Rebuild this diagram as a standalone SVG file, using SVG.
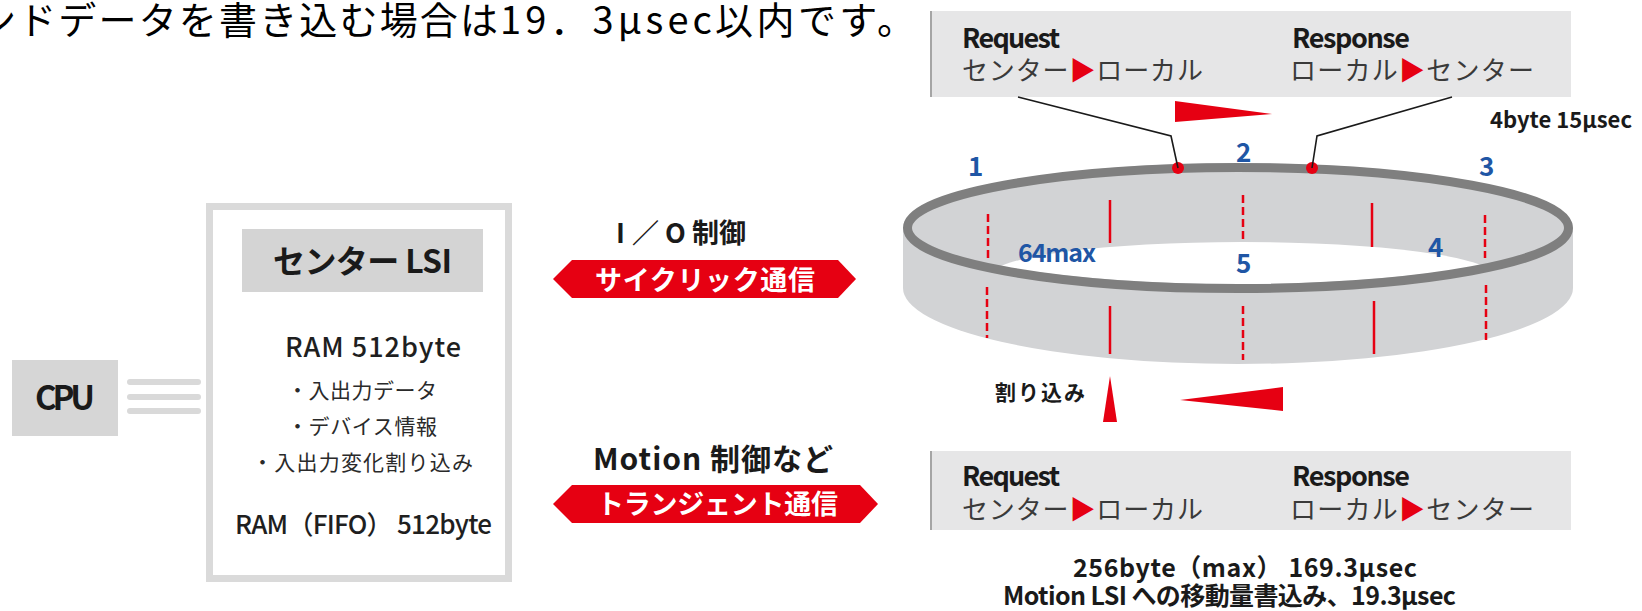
<svg xmlns="http://www.w3.org/2000/svg" width="1642" height="611" viewBox="0 0 1642 611">
<defs>
<style>
text{font-family:"Noto Sans CJK JP","Noto Sans",sans-serif;}
.b{font-weight:bold;fill:#1a1a1a;}
.m{font-weight:500;fill:#1f1f1f;}
.r{font-weight:normal;fill:#2a2a2a;}
.jp{font-weight:normal;fill:#3a3a3a;}
.w{font-weight:bold;fill:#ffffff;}
.blue{font-weight:bold;fill:#1f56a5;}
.red{fill:#e60012;}
.gbox{fill:#e6e6e7;}
.gedge{stroke:#a5a5a5;stroke-width:2;}
.leader{fill:none;stroke:#1a1a1a;stroke-width:1.6;}
.mark{stroke:#e60012;stroke-width:2.5;fill:none;}
.dash{stroke-dasharray:8 4;}
.bus{stroke:#d9d9d9;stroke-width:6;stroke-linecap:round;}
</style>
<clipPath id="inner"><ellipse cx="1238" cy="228" rx="326" ry="56"/></clipPath>
</defs>
<rect width="1642" height="611" fill="#ffffff"/>

<g id="top-note">
<text font-size="38" fill="#000"><tspan x="-22" y="34" textLength="520">ンドデータを書き込む場合は</tspan><tspan x="500" y="34" textLength="212">19．3μsec</tspan><tspan x="715" y="34" textLength="200">以内です。</tspan></text>
</g>

<g id="cpu">
<rect x="12" y="360" width="106" height="76" fill="#d6d6d6"/>
<text class="b" x="65" y="410" font-size="33" text-anchor="middle" textLength="60">CPU</text>
</g>

<g id="center-lsi">
<rect x="209.5" y="206.5" width="299" height="372" fill="#fff" stroke="#dadada" stroke-width="7"/>
<rect x="242" y="229" width="241" height="63" fill="#d4d4d4"/>
<text class="b" x="273" y="273" font-size="32" textLength="179">センター LSI</text>
<text class="m" x="285" y="357" font-size="27" textLength="176">RAM 512byte</text>
<text class="r" x="287" y="398" font-size="21" textLength="150">・入出力データ</text>
<text class="r" x="287" y="434" font-size="21" textLength="150">・デバイス情報</text>
<text class="r" x="252" y="470" font-size="21" textLength="221">・入出力変化割り込み</text>
<text class="m" x="235" y="534" font-size="26" textLength="257">RAM（FIFO） 512byte</text>
</g>

<g id="io-control">
<text class="b" font-size="27" y="243"><tspan x="616">I</tspan><tspan x="632">／</tspan><tspan x="665">O</tspan><tspan x="692">制御</tspan></text>
<polygon class="red" points="553,279 572,260 838,260 856,279 838,298 572,298"/>
<text class="w" x="595" y="290" font-size="27" textLength="220">サイクリック通信</text>
</g>

<g id="motion-control">
<text class="b" x="593" y="470" font-size="30" textLength="240">Motion 制御など</text>
<polygon class="red" points="553,504 572,485 860,485 878,504 860,523 572,523"/>
<text class="w" x="597" y="514" font-size="27" textLength="241">トランジェント通信</text>
</g>

<g id="ring">
<path d="M903,228 A335,65 0 0 1 1573,228 L1573,288 A335,76 0 0 1 903,288 Z" fill="#d2d3d5"/>
<ellipse cx="1242" cy="275" rx="250" ry="33" fill="#ffffff" clip-path="url(#inner)"/>
<ellipse cx="1238" cy="228" rx="330.5" ry="60.5" fill="none" stroke="#7f7f7f" stroke-width="9"/>
<line class="mark dash" x1="988" y1="214" x2="988" y2="258"/>
<line class="mark" x1="1110" y1="200" x2="1110" y2="243"/>
<line class="mark dash" x1="1243" y1="195" x2="1243" y2="240"/>
<line class="mark" x1="1372" y1="203" x2="1372" y2="247"/>
<line class="mark dash" x1="1485" y1="215" x2="1485" y2="258"/>
<line class="mark dash" x1="987" y1="287" x2="987" y2="338"/>
<line class="mark" x1="1110" y1="306" x2="1110" y2="354"/>
<line class="mark dash" x1="1243" y1="306" x2="1243" y2="360"/>
<line class="mark" x1="1374" y1="301" x2="1374" y2="354"/>
<line class="mark dash" x1="1486" y1="285" x2="1486" y2="340"/>
<text class="blue" x="968" y="176" font-size="26">1</text>
<text class="blue" x="1236" y="162" font-size="26">2</text>
<text class="blue" x="1479" y="176" font-size="26">3</text>
<text class="blue" x="1428" y="257" font-size="26">4</text>
<text class="blue" x="1236" y="273" font-size="26">5</text>
<text class="blue" x="1018" y="262" font-size="25" textLength="78">64max</text>
<circle cx="1178" cy="168" r="6" fill="#e60012"/>
<circle cx="1312" cy="168" r="6" fill="#e60012"/>
</g>

<g id="cyclic-box">
<rect class="gbox" x="930" y="11" width="641" height="86"/>
<line class="gedge" x1="931" y1="11" x2="931" y2="97"/>
<text class="b" x="962" y="48" font-size="27" textLength="98">Request</text>
<text class="jp" x="962" y="80" font-size="26" textLength="241">センター<tspan class="red">▶</tspan>ローカル</text>
<text class="b" x="1292" y="48" font-size="27" textLength="118">Response</text>
<text class="jp" x="1290" y="80" font-size="26" textLength="244">ローカル<tspan class="red">▶</tspan>センター</text>
<text class="b" x="1490" y="128" font-size="22" textLength="142">4byte 15μsec</text>
</g>

<g id="transient-box">
<rect class="gbox" x="930" y="451" width="641" height="79"/>
<line class="gedge" x1="931" y1="451" x2="931" y2="530"/>
<text class="b" x="962" y="486" font-size="27" textLength="98">Request</text>
<text class="jp" x="962" y="519" font-size="26" textLength="241">センター<tspan class="red">▶</tspan>ローカル</text>
<text class="b" x="1292" y="486" font-size="27" textLength="118">Response</text>
<text class="jp" x="1290" y="519" font-size="26" textLength="244">ローカル<tspan class="red">▶</tspan>センター</text>
<text class="b" x="1073" y="577" font-size="25" textLength="344">256byte（max） 169.3μsec</text>
<text class="b" x="1003" y="605" font-size="25" textLength="453">Motion LSI への移動量書込み、19.3μsec</text>
</g>

<g id="interrupt">
<text class="b" x="995" y="400" font-size="21" fill="#333" textLength="90">割り込み</text>
</g>

<g id="connectors">
<line class="bus" x1="130" y1="382" x2="198" y2="382"/>
<line class="bus" x1="130" y1="397" x2="198" y2="397"/>
<line class="bus" x1="130" y1="411" x2="198" y2="411"/>
<polyline class="leader" points="1018,97 1171,136 1178,168"/>
<polyline class="leader" points="1452,97 1317,136 1312,168"/>
<polygon class="red" points="1175,101 1272,114 1175,122"/>
<polygon class="red" points="1180,400 1283,387 1283,411"/>
<polygon class="red" points="1110,376 1117,422 1103,422"/>
</g>
</svg>
